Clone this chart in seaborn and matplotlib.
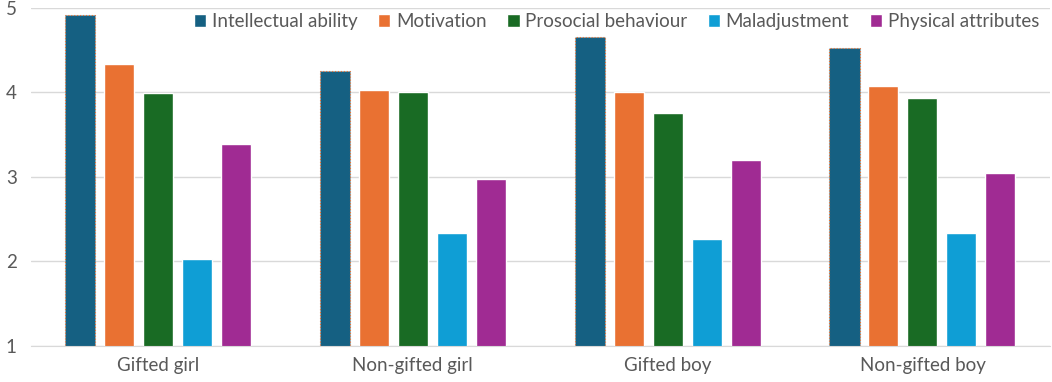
import matplotlib
matplotlib.use("Agg")
import matplotlib.pyplot as plt
import pandas as pd
import seaborn as sns

groups = ["Gifted girl", "Non-gifted girl", "Gifted boy", "Non-gifted boy"]
series = ["Intellectual ability", "Motivation", "Prosocial behaviour",
          "Maladjustment", "Physical attributes"]
intellectual = [4.92, 4.25, 4.66, 4.53]
motivation = [4.34, 4.03, 4.01, 4.08]
prosocial = [3.99, 4.00, 3.76, 3.94]
maladjustment = [2.03, 2.34, 2.26, 2.34]
physical = [3.39, 2.97, 3.20, 3.05]
colors = ["#156082", "#E97132", "#196B24", "#0F9ED5", "#A02B93"]

vals = [intellectual, motivation, prosocial, maladjustment, physical]
df = pd.DataFrame([(g, s, v[i]) for s, v in zip(series, vals) for i, g in enumerate(groups)],
                  columns=["group", "series", "value"])

sns.set_style("white")
plt.rcParams["font.family"] = ["Lato", "DejaVu Sans"]
txt = "#595959"

fig, ax = plt.subplots(figsize=(10.52, 3.82), dpi=100)
fig.subplots_adjust(left=0.029, right=0.998, top=0.979, bottom=0.095)

sns.barplot(data=df, x="group", y="value", hue="series", palette=colors,
            width=0.765, gap=0.23, ax=ax, saturation=1, legend=True)

# dotted orange outline on the first series, as in the original
for bar in ax.containers[0]:
    bar.set_edgecolor("#E97132")
    bar.set_linestyle(":")
    bar.set_linewidth(0.8)

ax.set_ylim(1, 5)
ax.set_yticks([1, 2, 3, 4, 5])
ax.set_xlim(-0.5, 3.5)
ax.yaxis.grid(True, color="#D9D9D9", linewidth=1)
ax.set_axisbelow(True)
for s in ["top", "right", "left"]:
    ax.spines[s].set_visible(False)
ax.spines["bottom"].set_color("#D9D9D9")
ax.set_xlabel("")
ax.set_ylabel("")
ax.tick_params(axis="both", length=0, labelsize=13.5, colors=txt)
ax.tick_params(axis="x", pad=8)
ax.tick_params(axis="y", pad=10)

handles, labels = ax.get_legend_handles_labels()
leg = ax.legend(handles, labels, ncol=5, loc="upper right", bbox_to_anchor=(1.006, 1.035),
                frameon=False, fontsize=13.5, handlelength=0.65, handleheight=0.65,
                handletextpad=0.3, columnspacing=1.1, labelcolor=txt)

fig.savefig("out.png", dpi=100)
